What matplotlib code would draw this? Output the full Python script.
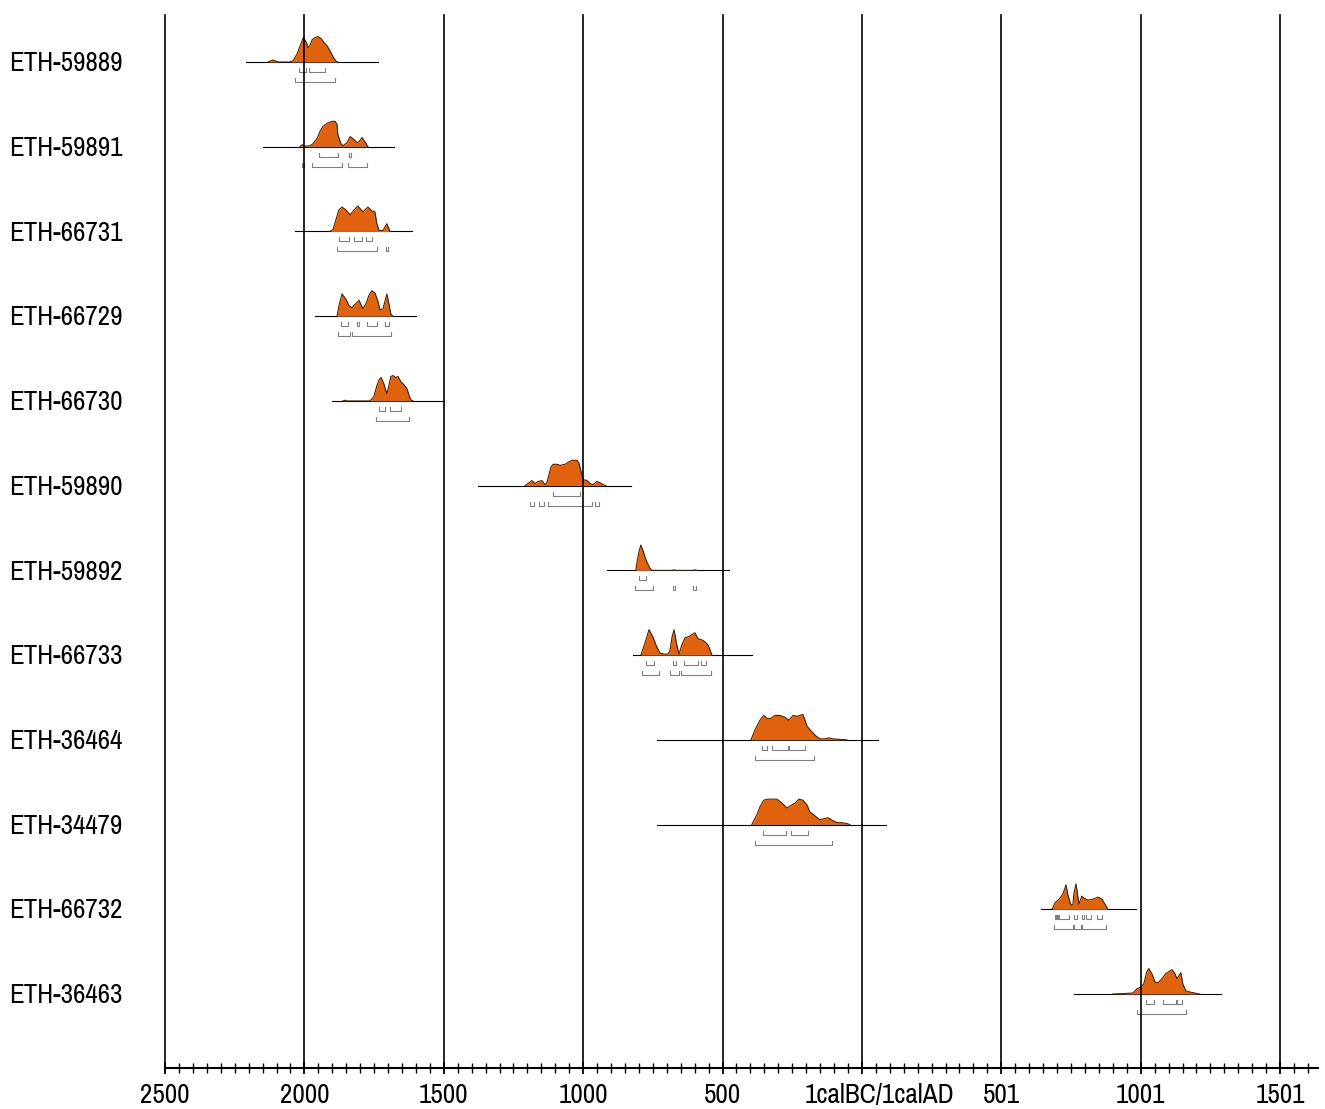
import matplotlib
matplotlib.use("Agg")
import matplotlib.pyplot as plt
import matplotlib.transforms as mtransforms
from matplotlib import font_manager as fm
from matplotlib.ticker import MultipleLocator
import numpy as np

# original uses a condensed grotesque; take a narrow face if one is installed
_narrow = sorted({f.name for f in fm.fontManager.ttflist
                  if "Narrow" in f.name or "Condensed" in f.name})
if _narrow:
    plt.rcParams["font.family"] = [_narrow[0], "DejaVu Sans"]
    FS = 19.5
else:
    plt.rcParams["font.family"] = ["Liberation Sans", "DejaVu Sans"]
    FS = 17
# DejaVu Sans condensed faces register under the same family name
_cond = [f for f in fm.fontManager.ttflist if f.stretch in ("condensed", "semi-condensed")]
if not _narrow and _cond:
    plt.rcParams["font.family"] = [_cond[0].name, "DejaVu Sans"]
    plt.rcParams["font.stretch"] = _cond[0].stretch
    FS = 19

# ── data: calibrated ages (negative = cal BC), relative probability ──────
LABELS = ["ETH-59889", "ETH-59891", "ETH-66731", "ETH-66729", "ETH-66730", "ETH-59890",
          "ETH-59892", "ETH-66733", "ETH-36464", "ETH-34479", "ETH-66732", "ETH-36463"]

YRS_59889 = [-2130, -2112, -2094, -2052, -2041, -2026, -2015, -2004, -1994, -1987, -1979,
             -1972, -1962, -1951, -1940, -1929, -1919, -1908, -1897, -1887, -1880]
P_59889 = [0, 2, 0, 0, 1, 8, 16, 24, 20, 14, 17, 22, 24, 25, 23, 19, 16, 11, 5, 1, 0]
SPAN_59889 = (-2209, -1736)
S1_59889 = [(-2019, -1994), (-1983, -1926)]
S2_59889 = [(-2034, -1890)]

YRS_59891 = [-2016, -2008, -1998, -1980, -1969, -1955, -1944, -1933, -1919, -1901, -1890, -1883,
             -1880, -1869, -1862, -1847, -1836, -1826, -1811, -1804, -1793, -1783, -1772]
P_59891 = [0, 2, 0.5, 1, 3, 8, 15, 20, 23, 25, 25, 22, 12, 3, 1, 4, 10, 8, 4, 5, 9, 5, 0]
SPAN_59891 = (-2149, -1679)
S1_59891 = [(-1948, -1880), (-1840, -1833)]
S2_59891 = [(-2009, -2001), (-1973, -1865), (-1844, -1776)]

YRS_66731 = [-1908, -1897, -1887, -1876, -1865, -1851, -1836, -1822, -1808, -1790, -1772,
             -1758, -1747, -1740, -1732, -1718, -1704, -1693]
P_66731 = [0, 2, 12, 22, 25, 22, 17, 22, 26, 20, 25, 21, 20, 8, 1, 1, 8, 0]
SPAN_66731 = (-2034, -1614)
S1_66731 = [(-1876, -1840), (-1822, -1793), (-1779, -1758)]
S2_66731 = [(-1883, -1740), (-1707, -1700)]

YRS_66729 = [-1883, -1876, -1865, -1851, -1840, -1829, -1819, -1804, -1790, -1779, -1768,
             -1758, -1747, -1736, -1729, -1718, -1707, -1704, -1697, -1690, -1682]
P_66729 = [0, 10, 21, 16, 10, 8, 11, 15, 7, 12, 20, 24, 22, 14, 6, 7, 18, 21, 12, 2, 0]
SPAN_66729 = (-1962, -1600)
S1_66729 = [(-1869, -1844), (-1811, -1804), (-1775, -1740), (-1711, -1697)]
S2_66729 = [(-1880, -1836), (-1829, -1690)]

YRS_66730 = [-1862, -1854, -1847, -1765, -1751, -1740, -1732, -1725, -1715, -1704, -1697,
             -1690, -1682, -1672, -1664, -1654, -1643, -1632, -1625, -1618, -1610]
P_66730 = [0, 0.7, 0, 0, 4, 15, 21, 23, 17, 7, 15, 24, 25, 23, 24, 19, 16, 12, 6, 1, 0]
SPAN_66730 = (-1901, -1499)
S1_66730 = [(-1732, -1711), (-1693, -1654)]
S2_66730 = [(-1743, -1625)]

YRS_59890 = [-1209, -1198, -1184, -1173, -1162, -1148, -1137, -1130, -1116, -1108, -1094, -1083,
             -1065, -1054, -1040, -1022, -1015, -1004, -1000, -986, -975, -965, -951, -940, -929, -918]
P_59890 = [0, 2, 5, 2, 4, 5, 1, 3, 18, 21, 21, 20, 21, 23, 25, 25, 22, 10, 6, 5, 2, 1, 4, 3, 1, 0]
SPAN_59890 = (-1377, -829)
S1_59890 = [(-1108, -1011)]
S2_59890 = [(-1191, -1176), (-1159, -1141), (-1126, -968), (-958, -943)]

YRS_59892 = [-811, -807, -800, -793, -786, -778, -771, -760, -753, -681, -674, -667, -606, -599, -592]
P_59892 = [0, 8, 18, 25, 20, 13, 8, 2, 0, 0, 0.5, 0, 0, 0.5, 0]
SPAN_59892 = (-915, -477)
S1_59892 = [(-800, -775)]
S2_59892 = [(-814, -750), (-678, -671), (-606, -595)]

YRS_66733 = [-793, -778, -764, -750, -736, -724, -710, -696, -689, -681, -674, -664, -656, -646,
             -635, -624, -610, -599, -588, -574, -563, -552, -542, -538]
P_66733 = [0, 12, 25, 18, 8, 2, 1, 1, 4, 18, 25, 10, 1, 10, 17, 18, 20, 22, 16, 15, 13, 10, 3, 0]
SPAN_66733 = (-821, -395)
S1_66733 = [(-775, -746), (-678, -667), (-638, -588), (-577, -560)]
S2_66733 = [(-789, -728), (-689, -656), (-649, -542)]

YRS_36464 = [-398, -384, -366, -352, -341, -326, -312, -294, -276, -262, -247, -233, -212, -204,
             -197, -179, -165, -151, -133, -118, -104, -79, -54]
P_36464 = [0, 10, 20, 25, 22, 22, 25, 25, 23, 20, 25, 24, 26, 20, 14, 8, 4, 1, 1, 2, 1, 0.5, 0]
SPAN_36464 = (-735, 57)
S1_36464 = [(-359, -341), (-323, -265), (-262, -204)]
S2_36464 = [(-384, -172)]

YRS_34479 = [-395, -377, -366, -352, -337, -305, -287, -269, -258, -240, -226, -212, -197, -187,
             -169, -151, -136, -122, -104, -90, -72, -54, -43]
P_34479 = [0, 10, 18, 25, 26, 26, 22, 17, 19, 22, 26, 25, 20, 13, 9, 5, 6, 7, 4, 2, 2, 1, 0]
SPAN_34479 = (-735, 86)
S1_34479 = [(-355, -273), (-255, -194)]
S2_34479 = [(-384, -108)]

YRS_66732 = [682, 692, 707, 721, 732, 739, 750, 757, 760, 768, 775, 778, 789, 796, 811, 829,
             847, 861, 872, 882]
P_66732 = [0, 6, 10, 15, 24, 14, 4, 5, 15, 25, 12, 5, 13, 11, 9, 10, 12, 10, 5, 0]
SPAN_66732 = (642, 983)
S1_66732 = [(694, 697), (700, 703), (707, 743), (760, 771), (789, 796), (803, 821), (843, 861)]
S2_66732 = [(689, 757), (760, 786), (789, 875)]

YRS_36463 = [900, 943, 972, 986, 1001, 1011, 1022, 1029, 1040, 1051, 1062, 1076, 1090, 1112,
             1123, 1130, 1144, 1151, 1162, 1176, 1194, 1212]
P_36463 = [0, 0.5, 1, 5, 7, 10, 22, 25, 20, 12, 11, 15, 20, 24, 20, 15, 21, 10, 3, 2, 1, 0]
SPAN_36463 = (760, 1288)
S1_36463 = [(1019, 1047), (1080, 1126), (1130, 1148)]
S2_36463 = [(986, 1162)]

TICKS = [-2500, -2000, -1500, -1000, -500, 0, 500, 1000, 1500]
TICK_LABELS = ["2500", "2000", "1500", "1000", "500", "1calBC/1calAD", "501", "1001", "1501"]

ROWS = [
    (YRS_59889, P_59889, SPAN_59889, S1_59889, S2_59889),
    (YRS_59891, P_59891, SPAN_59891, S1_59891, S2_59891),
    (YRS_66731, P_66731, SPAN_66731, S1_66731, S2_66731),
    (YRS_66729, P_66729, SPAN_66729, S1_66729, S2_66729),
    (YRS_66730, P_66730, SPAN_66730, S1_66730, S2_66730),
    (YRS_59890, P_59890, SPAN_59890, S1_59890, S2_59890),
    (YRS_59892, P_59892, SPAN_59892, S1_59892, S2_59892),
    (YRS_66733, P_66733, SPAN_66733, S1_66733, S2_66733),
    (YRS_36464, P_36464, SPAN_36464, S1_36464, S2_36464),
    (YRS_34479, P_34479, SPAN_34479, S1_34479, S2_34479),
    (YRS_66732, P_66732, SPAN_66732, S1_66732, S2_66732),
    (YRS_36463, P_36463, SPAN_36463, S1_36463, S2_36463),
]

# ── style ────────────────────────────────────────────────────────────────
ORANGE = "#e0620f"
OUTLINE = "#3b2514"
BRACKET = "#808080"
PEAK = 0.30        # curve height, in row units
OFF1, OFF2, TICK_H = 0.118, 0.236, 0.047

W, H = 1325, 1109
fig = plt.figure(figsize=(W / 100, H / 100), dpi=100)
ax = fig.add_axes([165 / W, 1 - 1068 / H, 1153 / W, (1068 - 15) / H])
ax.set_xlim(-2500, 1636)
ax.set_ylim(11.873, -0.555)

for s in ("top", "right", "left"):
    ax.spines[s].set_visible(False)
ax.spines["bottom"].set_linewidth(1.5)
ax.set_yticks([])
ax.set_xticks(TICKS)
ax.set_xticklabels(TICK_LABELS)
ax.xaxis.set_minor_locator(MultipleLocator(50))
ax.tick_params(axis="x", which="major", direction="inout", length=9, width=1.3,
               labelsize=FS, pad=6)
ax.tick_params(axis="x", which="minor", direction="inout", length=7, width=1.0)

# nudge the BC/AD label like the original
lbl = ax.get_xticklabels()[5]
lbl.set_transform(lbl.get_transform() + mtransforms.ScaledTranslation(0.18, 0, fig.dpi_scale_trans))

for t in TICKS:
    ax.axvline(t, color="black", lw=1.2, zorder=4, clip_on=False)

lab_tr = mtransforms.blended_transform_factory(fig.transFigure, ax.transData)
for i, (yrs, p, span, s1, s2) in enumerate(ROWS):
    ax.plot(span, [i, i], color="black", lw=0.8, zorder=1)
    h = np.asarray(p, dtype=float) / max(p) * PEAK
    ax.fill_between(yrs, i, i - h, color=ORANGE, lw=0, zorder=2)
    ax.plot(yrs, i - h, color=OUTLINE, lw=0.8, zorder=3)
    for off, ranges in ((OFF1, s1), (OFF2, s2)):
        y = i + off
        for lo, hi in ranges:
            ax.plot([lo, lo, hi, hi], [y - TICK_H, y, y, y - TICK_H],
                    color=BRACKET, lw=0.8, zorder=2)
    ax.text(9 / W, i + 0.02, LABELS[i], transform=lab_tr, ha="left", va="center", fontsize=FS)

fig.savefig("out.png", dpi=100)
